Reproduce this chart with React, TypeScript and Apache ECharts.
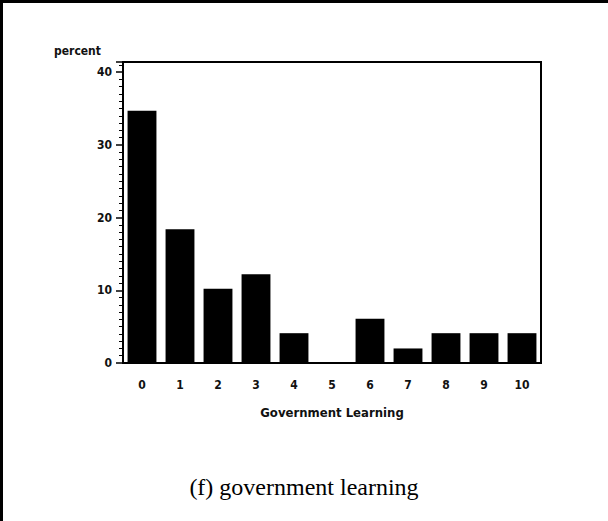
import React, { useEffect, useRef } from "react";
import * as echarts from "echarts";

const categories = ["0", "1", "2", "3", "4", "5", "6", "7", "8", "9", "10"];
const percentValues = [34.7, 18.4, 10.2, 12.2, 4.1, 0, 6.1, 2.0, 4.1, 4.1, 4.1];
const xAxisTitle = "Government Learning";
const yAxisTitle = "percent";
const caption = "(f) government learning";

export default function App() {
  const ref = useRef<HTMLDivElement>(null);
  useEffect(() => {
    document.body.style.margin = "0";
    const chart = echarts.init(ref.current!, null, { renderer: "svg" });
    const tickFont = {
      fontFamily: "DejaVu Sans Condensed",
      fontSize: 12,
      fontWeight: "bold" as const,
      color: "#111",
    };
    chart.setOption({
      animation: false,
      backgroundColor: "#fff",
      grid: {
        left: 123,
        right: 67,
        top: 62,
        bottom: 158,
        show: true,
        borderColor: "#000",
        borderWidth: 2,
        backgroundColor: "transparent",
      },
      xAxis: {
        type: "category",
        data: categories,
        name: xAxisTitle,
        nameLocation: "middle",
        nameGap: 43,
        nameTextStyle: { ...tickFont, fontSize: 13 },
        axisLine: { lineStyle: { color: "#000", width: 2 } },
        axisTick: { show: false },
        axisLabel: { ...tickFont, margin: 16 },
        splitLine: { show: false },
      },
      yAxis: {
        type: "value",
        min: 0,
        max: 41.4,
        interval: 10,
        axisLine: { show: true, lineStyle: { color: "#000", width: 2 } },
        axisTick: { show: true, length: 7, lineStyle: { color: "#000", width: 1.5 } },
        minorTick: { show: true, splitNumber: 10, length: 4, lineStyle: { color: "#000", width: 1 } },
        axisLabel: { ...tickFont, margin: 11, showMaxLabel: false },
        splitLine: { show: false },
      },
      series: [
        {
          type: "bar",
          data: percentValues,
          barCategoryGap: "24%",
          itemStyle: { color: "#000" },
        },
      ],
      graphic: [
        { type: "rect", shape: { x: 0, y: 0, width: 608, height: 3 }, style: { fill: "#000" } },
        { type: "rect", shape: { x: 0, y: 0, width: 3, height: 521 }, style: { fill: "#000" } },
        {
          type: "text",
          x: 54,
          y: 45,
          style: { text: yAxisTitle, fontFamily: "DejaVu Sans Condensed", fontSize: 12, fontWeight: "bold", fill: "#111" },
        },
        {
          type: "text",
          x: 304,
          y: 487,
          style: {
            text: caption,
            fontFamily: "Liberation Serif",
            fontSize: 24,
            fill: "#000",
            align: "center",
            verticalAlign: "middle",
          },
        },
      ],
    });
    return () => chart.dispose();
  }, []);
  return (
    <div
      ref={ref}
      style={{ position: "absolute", left: 0, top: 0, width: 608, height: 521 }}
    />
  );
}
